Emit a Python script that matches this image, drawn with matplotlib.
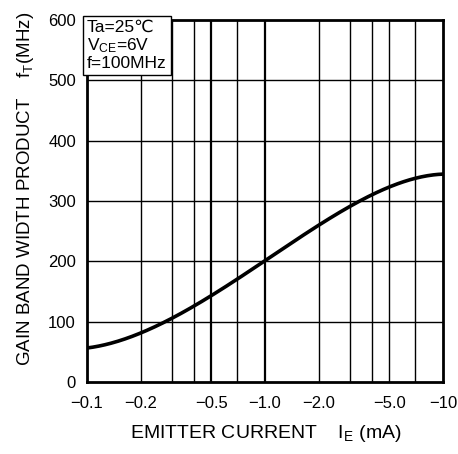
import numpy as np
import matplotlib.pyplot as plt
from matplotlib.ticker import FixedLocator, NullLocator

plt.rcParams['font.family'] = ['Liberation Sans', 'DejaVu Sans']
plt.rcParams['mathtext.fontset'] = 'custom'
plt.rcParams['mathtext.rm'] = 'Liberation Sans'
plt.rcParams['mathtext.it'] = 'Liberation Sans'

# emitter current (mA, magnitude) vs fT (MHz)
current = [0.1, 0.15, 0.2, 0.3, 0.4, 0.5, 0.7, 1.0, 1.5, 2.0, 3.0, 4.0, 5.0, 7.0, 10.0]
ft = [56, 68, 81, 103, 126, 146, 171, 199, 234, 260, 292, 311, 323, 336, 345]

grid_x = [0.2, 0.3, 0.4, 0.5, 0.7, 1.0, 2.0, 3.0, 4.0, 5.0, 7.0]
grid_y = [100, 200, 300, 400, 500]
x_ticks = [0.1, 0.2, 0.5, 1.0, 2.0, 5.0, 10.0]
x_labels = ['\u22120.1', '\u22120.2', '\u22120.5', '\u22121.0', '\u22122.0', '\u22125.0', '\u221210']
y_ticks = [0, 100, 200, 300, 400, 500, 600]

fig = plt.figure(figsize=(4.58, 4.54), dpi=100)
ax = fig.add_axes([0.19, 0.159, 0.777, 0.797])

# smooth curve through the read points (log x)
lx = np.log10(current)
coef = np.polyfit(lx, ft, 5)
xs = np.linspace(lx[0], lx[-1], 300)
ax.plot(10 ** xs, np.polyval(coef, xs), color='black', lw=2.6, zorder=3)

for gx in grid_x:
    lw = 1.6 if gx in (0.5, 1.0) else 1.0
    ax.axvline(gx, color='black', lw=lw, zorder=1)
for gy in grid_y:
    ax.axhline(gy, color='black', lw=1.0, zorder=1)

ax.set_xscale('log')
ax.set_xlim(0.1, 10)
ax.set_ylim(0, 600)
ax.xaxis.set_major_locator(FixedLocator(x_ticks))
ax.xaxis.set_minor_locator(NullLocator())
ax.set_xticks(x_ticks)
ax.set_xticklabels(x_labels)
ax.set_yticks(y_ticks)
ax.tick_params(length=0, labelsize=12, pad=8)
ax.tick_params(axis='x', pad=10)
for s in ax.spines.values():
    s.set_linewidth(2.0)

# condition box
ax.text(0.1, 600, 'Ta=25\u2103\nV$_{\\mathrm{CE}}$=6V\nf=100MHz', fontsize=12.5,
        va='top', ha='left', linespacing=1.08, zorder=4,
        bbox=dict(boxstyle='square,pad=0.25', facecolor='white', edgecolor='black', lw=1.0))

fig.text(0.58, 0.022, 'EMITTER CURRENT    I$_{\\mathrm{E}}$ (mA)', fontsize=14,
         ha='center', va='bottom')
fig.text(0.055, 0.585, 'GAIN BAND WIDTH PRODUCT    f$_{\\mathrm{T}}$(MHz)', fontsize=13.5,
         ha='center', va='center', rotation=90)

fig.savefig('out.png', dpi=100)
